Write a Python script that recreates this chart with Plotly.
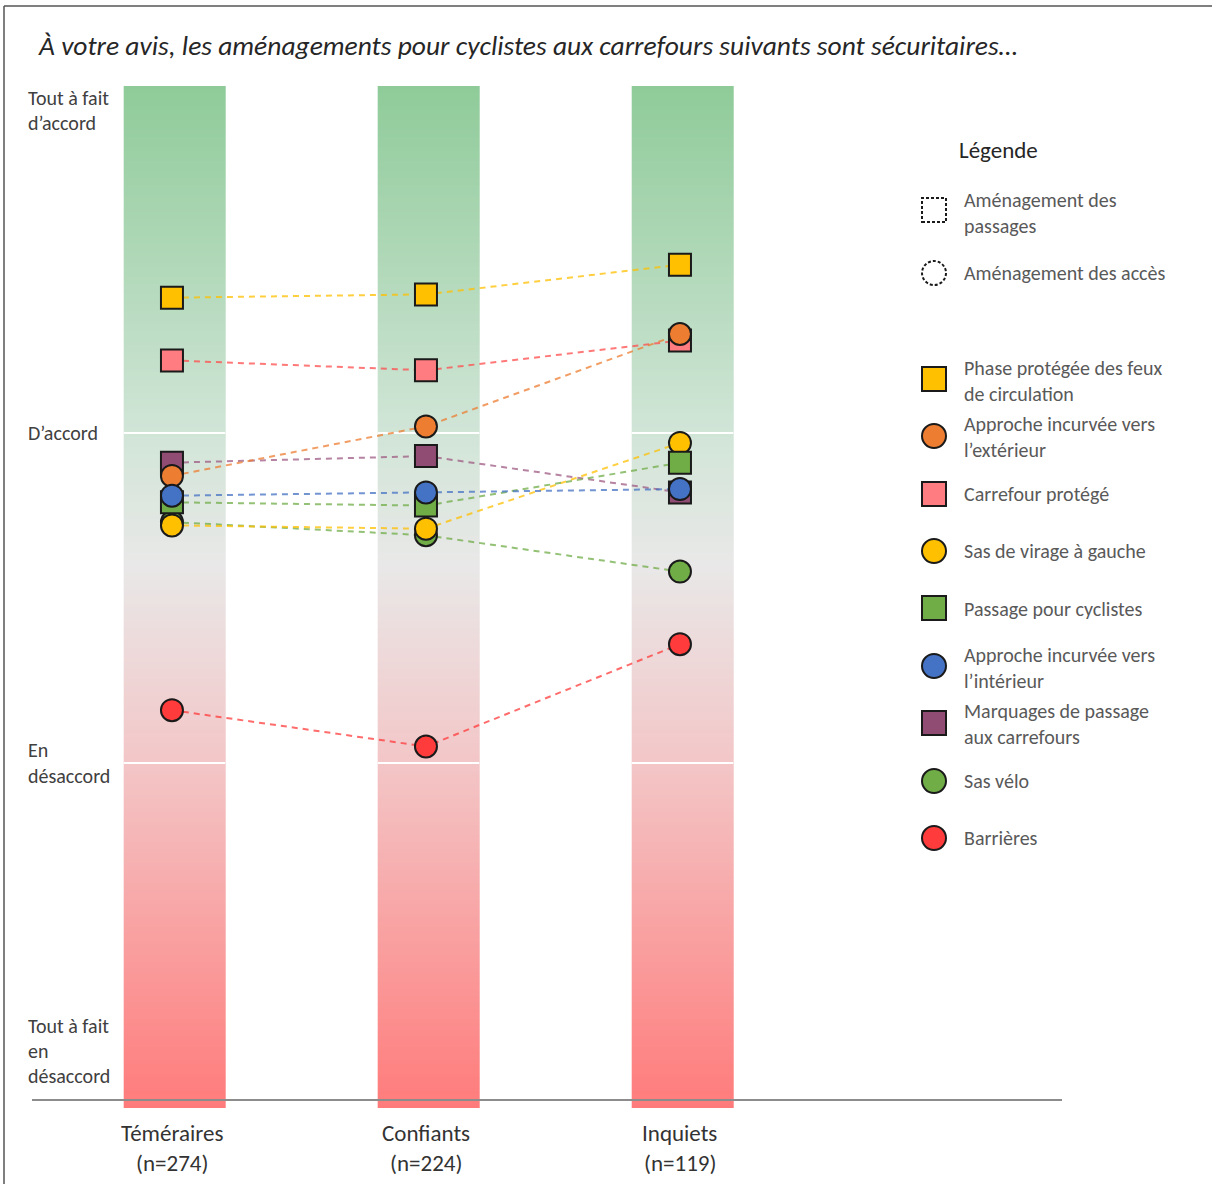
import numpy as np
import plotly.graph_objects as go

# ---- data -------------------------------------------------------------
groups = ["Téméraires", "Confiants", "Inquiets"]
group_n = ["(n=274)", "(n=224)", "(n=119)"]

series_names = [
    "Phase protégée des feux<br>de circulation",
    "Approche incurvée vers<br>l’extérieur",
    "Carrefour protégé",
    "Sas de virage à gauche",
    "Passage pour cyclistes",
    "Approche incurvée vers<br>l’intérieur",
    "Marquages de passage<br>aux carrefours",
    "Sas vélo",
    "Barrières",
]
# mean agreement score (1 = tout à fait en désaccord ... 4 = tout à fait d'accord)
phase_protegee = [3.41, 3.42, 3.51]
approche_exterieur = [2.87, 3.02, 3.30]
carrefour_protege = [3.22, 3.19, 3.28]
sas_virage_gauche = [2.72, 2.71, 2.97]
passage_cyclistes = [2.79, 2.78, 2.91]
approche_interieur = [2.81, 2.82, 2.83]
marquages_passage = [2.91, 2.93, 2.82]
sas_velo = [2.73, 2.69, 2.58]
barrieres = [2.16, 2.05, 2.36]

series_values = [phase_protegee, approche_exterieur, carrefour_protege,
                 sas_virage_gauche, passage_cyclistes, approche_interieur,
                 marquages_passage, sas_velo, barrieres]
# "square" = aménagement des passages, "circle" = aménagement des accès
series_symbols = ["square", "circle", "square", "circle", "square",
                  "circle", "square", "circle", "circle"]
series_colors = ["#FFC000", "#ED7D31", "#FF7C80", "#FFC000", "#70AD47",
                 "#4472C4", "#904C72", "#70AD47", "#FF3B3B"]
line_colors = ["#FFC000", "#ED7D31", "#FF4D4D", "#FFC000", "#70AD47",
               "#4472C4", "#9E5A84", "#70AD47", "#FF3B3B"]
# stacking order of the markers (first drawn = bottom)
draw_order = [0, 2, 6, 7, 3, 4, 1, 5, 8]

scale_levels = [4, 3, 2, 1]
scale_labels = [["Tout à fait", "d’accord"], ["D’accord"],
                ["En", "désaccord"], ["Tout à fait", "en", "désaccord"]]

# ---- geometry -----------------------------------------------------------
FIG_W, FIG_H = 1212, 1184
M_L, M_R, M_T, M_B = 32, 150, 86, 76
Y_RANGE = [0.9545, 4.0515]
X_RANGE = [-0.551, 3.504]
BAR_HALF = 0.2
FONT = "Carlito, Lato, 'Open Sans', sans-serif"


def px_x(px):
    return (px - M_L) / (FIG_W - M_L - M_R)


def px_y(py):
    return (FIG_H - M_B - py) / (FIG_H - M_T - M_B)


xpos = list(range(len(groups)))
fig = go.Figure()

# gradient columns (green = agreement, red = disagreement)
grad_scale = [
    [0.0, "#FF7B7B"],
    [(2.0 - Y_RANGE[0]) / (Y_RANGE[1] - Y_RANGE[0]), "#F3C6C7"],
    [(2.6 - Y_RANGE[0]) / (Y_RANGE[1] - Y_RANGE[0]), "#E9E8E8"],
    [(3.0 - Y_RANGE[0]) / (Y_RANGE[1] - Y_RANGE[0]), "#D1E5D7"],
    [1.0, "#8FCB99"],
]
edges = np.linspace(Y_RANGE[0], Y_RANGE[1], 301)
mids = (edges[:-1] + edges[1:]) / 2
for x in xpos:
    fig.add_trace(go.Heatmap(
        x=[x - BAR_HALF + 0.01, x + BAR_HALF + 0.01], y=edges,
        z=mids.reshape(-1, 1),
        colorscale=grad_scale, zmin=Y_RANGE[0], zmax=Y_RANGE[1],
        showscale=False, hoverinfo="skip"))

# white separators at the scale levels inside each column
for lvl in [3, 2]:
    for x in xpos:
        fig.add_trace(go.Scatter(
            x=[x - BAR_HALF + 0.01, x + BAR_HALF + 0.01], y=[lvl, lvl],
            mode="lines", line=dict(color="white", width=2),
            hoverinfo="skip", showlegend=False))

# dashed connectors
for i in draw_order:
    fig.add_trace(go.Scatter(
        x=xpos, y=series_values[i], mode="lines",
        line=dict(color=line_colors[i], width=2, dash="6px,5px"),
        opacity=0.75, hoverinfo="skip", showlegend=False))

# markers
for i in draw_order:
    fig.add_trace(go.Scatter(
        x=xpos, y=series_values[i], mode="markers",
        name=series_names[i].replace("<br>", " "),
        marker=dict(symbol=series_symbols[i], size=22,
                    color=series_colors[i],
                    line=dict(color="#1a1a1a", width=2)),
        showlegend=False))

annotations = []
shapes = []

# title
annotations.append(dict(
    x=px_x(36), y=px_y(45), xref="paper", yref="paper",
    xanchor="left", yanchor="middle", showarrow=False,
    text="À votre avis, les aménagements pour cyclistes aux carrefours suivants sont sécuritaires…",
    font=dict(family=FONT, size=27.5, color="#262626", style="italic")))

# scale labels on the left
LBL_LINE = 25
LBL_FONT = dict(family=FONT, size=20, color="#404040")
for lvl, lines in zip(scale_levels, scale_labels):
    n = len(lines)
    for k, t in enumerate(lines):
        if lvl == 4:
            y, yref, shift = px_y(M_T), "paper", -(12 + k * LBL_LINE)
        elif lvl == 1:
            y, yref, shift = lvl, "y", (n - 1 - k) * LBL_LINE + 17
        else:
            y, yref, shift = lvl, "y", ((n - 1) / 2 - k) * (LBL_LINE + 1)
        annotations.append(dict(
            x=px_x(26), y=y, xref="paper", yref=yref,
            xanchor="left", yanchor="middle", yshift=shift,
            text=t, showarrow=False, font=LBL_FONT))

# group labels under the axis
for x, g, n in zip(xpos, groups, group_n):
    annotations.append(dict(
        x=x, y=px_y(1133), xref="x", yref="paper", text=g,
        showarrow=False, xanchor="center", yanchor="middle",
        font=dict(family=FONT, size=23, color="#333333")))
    annotations.append(dict(
        x=x, y=px_y(1163), xref="x", yref="paper", text=n,
        showarrow=False, xanchor="center", yanchor="middle",
        font=dict(family=FONT, size=23, color="#333333")))

# baseline
shapes.append(dict(type="line", xref="paper", yref="paper",
                   x0=0, x1=px_x(1062), y0=px_y(1100), y1=px_y(1100),
                   line=dict(color="#8C8C8C", width=2)))
# frame (top and left)
shapes.append(dict(type="line", xref="paper", yref="paper",
                   x0=px_x(4), x1=px_x(1212), y0=px_y(6), y1=px_y(6),
                   line=dict(color="#555555", width=1.5)))
shapes.append(dict(type="line", xref="paper", yref="paper",
                   x0=px_x(4), x1=px_x(4), y0=px_y(6), y1=px_y(1184),
                   line=dict(color="#555555", width=1.5)))

# ---- legend -------------------------------------------------------------
LEG_MX, LEG_TX, HALF = 934, 962, 12
annotations.append(dict(
    x=px_x(957), y=px_y(150), xref="paper", yref="paper", text="Légende",
    showarrow=False, xanchor="left", yanchor="middle",
    font=dict(family=FONT, size=23, color="#262626")))

legend_rows = [
    ("square", None, 210, ["Aménagement des", "passages"], 200),
    ("circle", None, 273, ["Aménagement des accès"], 273),
]
row_marker_y = [379, 436, 494, 551, 608, 666, 723, 781, 838]
row_text_y = [368, 424, 494, 551, 609, 655, 711, 781, 838]
for i in range(len(series_names)):
    legend_rows.append((series_symbols[i], series_colors[i], row_marker_y[i],
                        series_names[i].split("<br>"), row_text_y[i]))

for sym, col, my, lines, ty in legend_rows:
    x0, x1 = px_x(LEG_MX - HALF), px_x(LEG_MX + HALF)
    y0, y1 = px_y(my + HALF), px_y(my - HALF)
    if col is None:
        line = dict(color="#1a1a1a", width=2, dash="3px,2px")
        fill = "rgba(0,0,0,0)"
    else:
        line = dict(color="#1a1a1a", width=2)
        fill = col
    shapes.append(dict(type="rect" if sym == "square" else "circle",
                       xref="paper", yref="paper", x0=x0, x1=x1, y0=y0, y1=y1,
                       line=line, fillcolor=fill))
    for k, t in enumerate(lines):
        annotations.append(dict(
            x=px_x(LEG_TX), y=px_y(ty + k * 26), xref="paper", yref="paper",
            text=t, showarrow=False, xanchor="left", yanchor="middle",
            font=dict(family=FONT, size=20, color="#595959")))

fig.update_layout(
    width=FIG_W, height=FIG_H,
    margin=dict(l=M_L, r=M_R, t=M_T, b=M_B, pad=0),
    paper_bgcolor="white", plot_bgcolor="white",
    showlegend=False,
    xaxis=dict(range=X_RANGE, showgrid=False, zeroline=False,
               showticklabels=False, ticks="", fixedrange=True),
    yaxis=dict(range=Y_RANGE, showgrid=False, zeroline=False,
               showticklabels=False, ticks="", fixedrange=True),
    annotations=annotations,
    shapes=shapes,
)

fig.write_html("out.html")
